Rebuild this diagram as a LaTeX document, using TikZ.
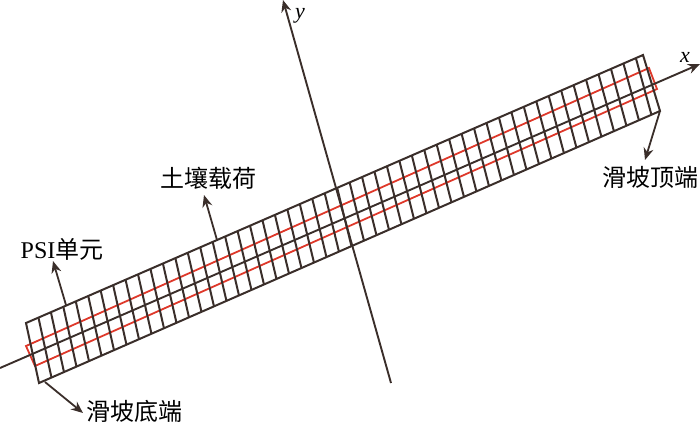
\documentclass[tikz,border=0pt]{standalone}
\usepackage{fontspec}
\setmainfont{Liberation Serif}
\newfontfamily\cjk{Noto Sans CJK SC}
\usepackage{tikz}
\usetikzlibrary{arrows.meta, calc}
\definecolor{inkline}{RGB}{58,46,42}
\definecolor{redline}{RGB}{222,56,42}
\newcommand{\drawStripCut}[1]{\draw[cell] ($(topL)!#1*0.02017!(topR)$) -- ($(botL)!#1*0.02012!(botR)$);}
\tikzset{>={Stealth[length=12pt,width=10pt]},
    cell/.style={draw=inkline,line width=2pt},
    axis/.style={draw=inkline,line width=1.9pt,->},
    pointer/.style={draw=inkline,line width=1.8pt,->},
    soil/.style={draw=redline,line width=1.8pt},
    textnode/.style={text=black,font=\fontsize{24}{24}\selectfont\cjk,inner sep=0pt},
    axisnode/.style={text=black,font=\fontsize{22}{22}\selectfont\itshape,inner sep=0pt}}

\begin{document}
\begin{tikzpicture}[x=1pt,y=-1pt]
\useasboundingbox (0,0) rectangle (700,424);

% strip corners
\coordinate (topL) at (26,323);
\coordinate (topR) at (643,55);
\coordinate (botL) at (39,383);
\coordinate (botR) at (660,111);
% red box corners
\coordinate (redA) at (26,346);
\coordinate (redB) at (649,68);
\coordinate (redC) at (657,89);
\coordinate (redD) at (35,366);
% axis ends
\coordinate (xFrom) at (0,368);
\coordinate (xTo)   at (700,64);
\coordinate (yFrom) at (391,383);
\coordinate (yTo)   at (283,0);
% pointer ends
\coordinate (psiFrom)  at (66,305);
\coordinate (psiTo)    at (53,261);
\coordinate (soilFrom) at (217,240);
\coordinate (soilTo)   at (204,195);
\coordinate (baseFrom) at (45,382);
\coordinate (baseTo)   at (83,413);
\coordinate (headFrom) at (660,111);
\coordinate (headTo)   at (645,160);

\node[textnode] (soilLabel) at (208,178) {土壤载荷};
\node[textnode] (psiLabel)  at (62,249)  {{\fontspec{Liberation Serif}PSI}单元};
\node[textnode] (baseLabel) at (134,411) {滑坡底端};
\node[textnode] (headLabel) at (650,177) {滑坡顶端};
\node[axisnode] (xLabel)    at (685,57)  {x};
\node[axisnode] (yLabel)    at (300,16)  {y};

\draw[soil] (redA) -- (redB) -- (redC) -- (redD) -- cycle;
\draw[cell] (topL) -- (topR) -- (botR) -- (botL) -- cycle;
\foreach \i in {1,...,49} {\drawStripCut{\i}}

\path[]
    (xFrom)    edge [axis]    (xTo)
    (yFrom)    edge [axis]    (yTo)
    (psiFrom)  edge [pointer] (psiTo)
    (soilFrom) edge [pointer] (soilTo)
    (baseFrom) edge [pointer] (baseTo)
    (headFrom) edge [pointer] (headTo);
\end{tikzpicture}
\end{document}
